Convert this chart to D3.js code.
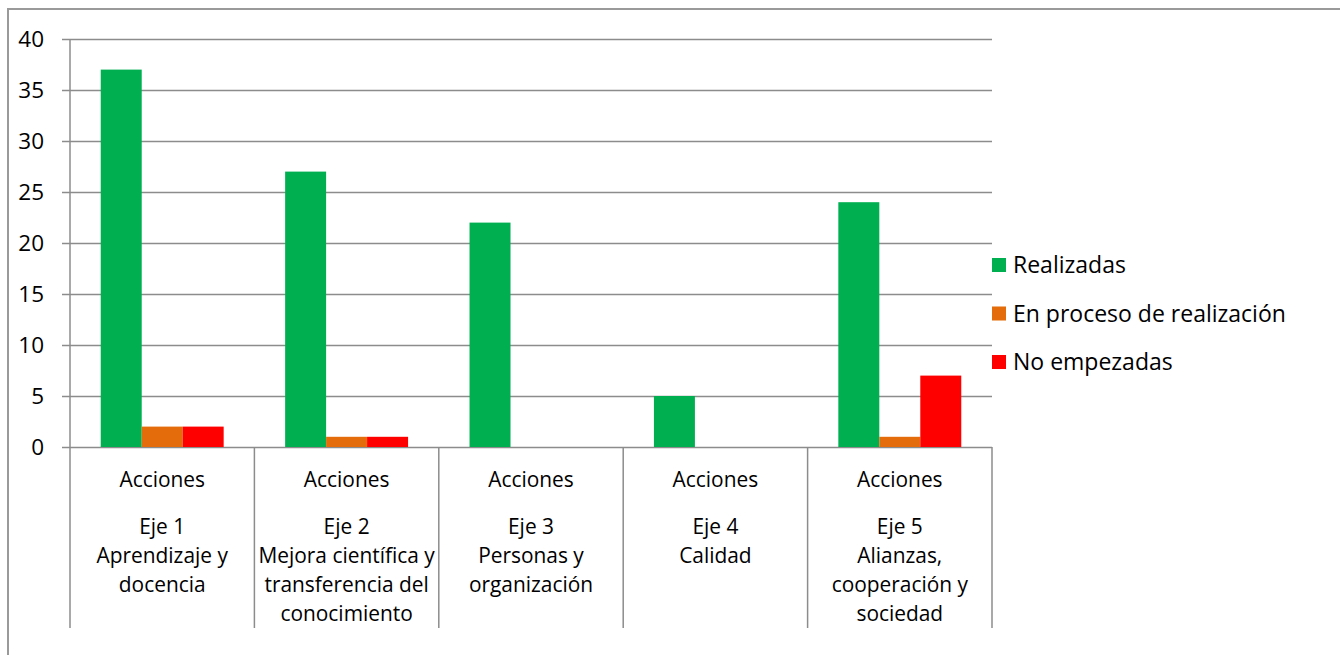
<!DOCTYPE html>
<html><head><meta charset="utf-8">
<script src="https://cdn.jsdelivr.net/npm/d3@7"></script>
<style>
html,body{margin:0;padding:0;background:#fff;}
svg{display:block;}
text{font-family:"Open Sans",sans-serif;fill:#000;}
</style></head>
<body>
<svg id="chart" width="1340" height="655"></svg>
<script>
const categories = ["Eje 1","Eje 2","Eje 3","Eje 4","Eje 5"];
const categoryTop = ["Acciones","Acciones","Acciones","Acciones","Acciones"];
const categoryLines = [
  ["Eje 1","Aprendizaje y","docencia"],
  ["Eje 2","Mejora científica y","transferencia del","conocimiento"],
  ["Eje 3","Personas y","organización"],
  ["Eje 4","Calidad"],
  ["Eje 5","Alianzas,","cooperación y","sociedad"]
];
const seriesNames = ["Realizadas","En proceso de realización","No empezadas"];
const realizadas = [37,27,22,5,24];
const enProceso = [2,1,0,0,1];
const noEmpezadas = [2,1,0,0,7];
const seriesColors = ["#00B050","#E46C0A","#FF0000"];
const yTicks = [0,5,10,15,20,25,30,35,40];

(function(){
const seriesValues = [realizadas, enProceso, noEmpezadas];
const svg = d3.select("#chart");
const pLeft = 70, pRight = 992, pTop = 39, pBottom = 447;

// outer border
svg.append("rect").attr("x",8).attr("y",9).attr("width",1400).attr("height",700)
  .attr("fill","none").attr("stroke","#9a9a9a").attr("stroke-width",2);

const y = d3.scaleLinear().domain([0,40]).range([pBottom, pTop]);
const x0 = d3.scaleBand().domain(categories).range([pLeft, pRight]).paddingInner(0).paddingOuter(0);
const x1 = d3.scaleBand().domain(seriesNames).range([0, x0.bandwidth()]).paddingInner(0).paddingOuter(0.75);

// gridlines
const grid = svg.append("g").attr("transform",`translate(${pRight},0)`)
  .call(d3.axisLeft(y).tickValues(yTicks).tickSize(pRight-62).tickFormat(""));
grid.select(".domain").remove();
grid.selectAll(".tick line").attr("stroke","#8c8c8c").attr("stroke-width",1.5)
  .attr("x1",0).attr("x2",-(pRight-62));

// y axis line
svg.append("line").attr("x1",pLeft).attr("x2",pLeft).attr("y1",pTop).attr("y2",pBottom)
  .attr("stroke","#8c8c8c").attr("stroke-width",1.5);

// y tick labels
svg.append("g").selectAll("text").data(yTicks).join("text")
  .attr("x",44).attr("y",d=>y(d)).attr("dy","0.36em").attr("text-anchor","end")
  .style("font-size","22.5px").text(d=>d);

// bars
const groups = svg.append("g").selectAll("g").data(categories).join("g")
  .attr("transform",d=>`translate(${x0(d)},0)`);
groups.selectAll("rect").data((d,i)=>seriesNames.map((s,j)=>({s, v: seriesValues[j][i], c: seriesColors[j]})))
  .join("rect")
  .attr("x",d=>x1(d.s)).attr("width",x1.bandwidth())
  .attr("y",d=>y(d.v)).attr("height",d=>y(0)-y(d.v))
  .attr("fill",d=>d.c);

// category dividers
const divs = categories.map(c=>x0(c)).concat([pRight]);
svg.append("g").selectAll("line").data(divs).join("line")
  .attr("x1",d=>d).attr("x2",d=>d).attr("y1",pBottom).attr("y2",628)
  .attr("stroke","#8c8c8c").attr("stroke-width",1.5);

// category labels
const labG = svg.append("g").selectAll("g").data(categories).join("g")
  .attr("transform",d=>`translate(${x0(d)+x0.bandwidth()/2},0)`);
labG.append("text").attr("y",479).attr("dy","0.36em").attr("text-anchor","middle")
  .style("font-size","20.9px").text((d,i)=>categoryTop[i]);
labG.each(function(d,i){
  d3.select(this).selectAll("text.l").data(categoryLines[i]).join("text").attr("class","l")
    .attr("y",(t,k)=>526+k*29).attr("dy","0.36em").attr("text-anchor","middle")
    .style("font-size","20.9px").text(t=>t);
});

// legend
const leg = svg.append("g").selectAll("g").data(seriesNames).join("g")
  .attr("transform",(d,i)=>`translate(992,${265+i*48.5})`);
leg.append("rect").attr("x",0).attr("y",-7).attr("width",14).attr("height",14)
  .attr("fill",(d,i)=>seriesColors[i]);
leg.append("text").attr("x",21).attr("dy","0.36em").style("font-size","23px").text(d=>d);
})();
</script>
</body></html>
